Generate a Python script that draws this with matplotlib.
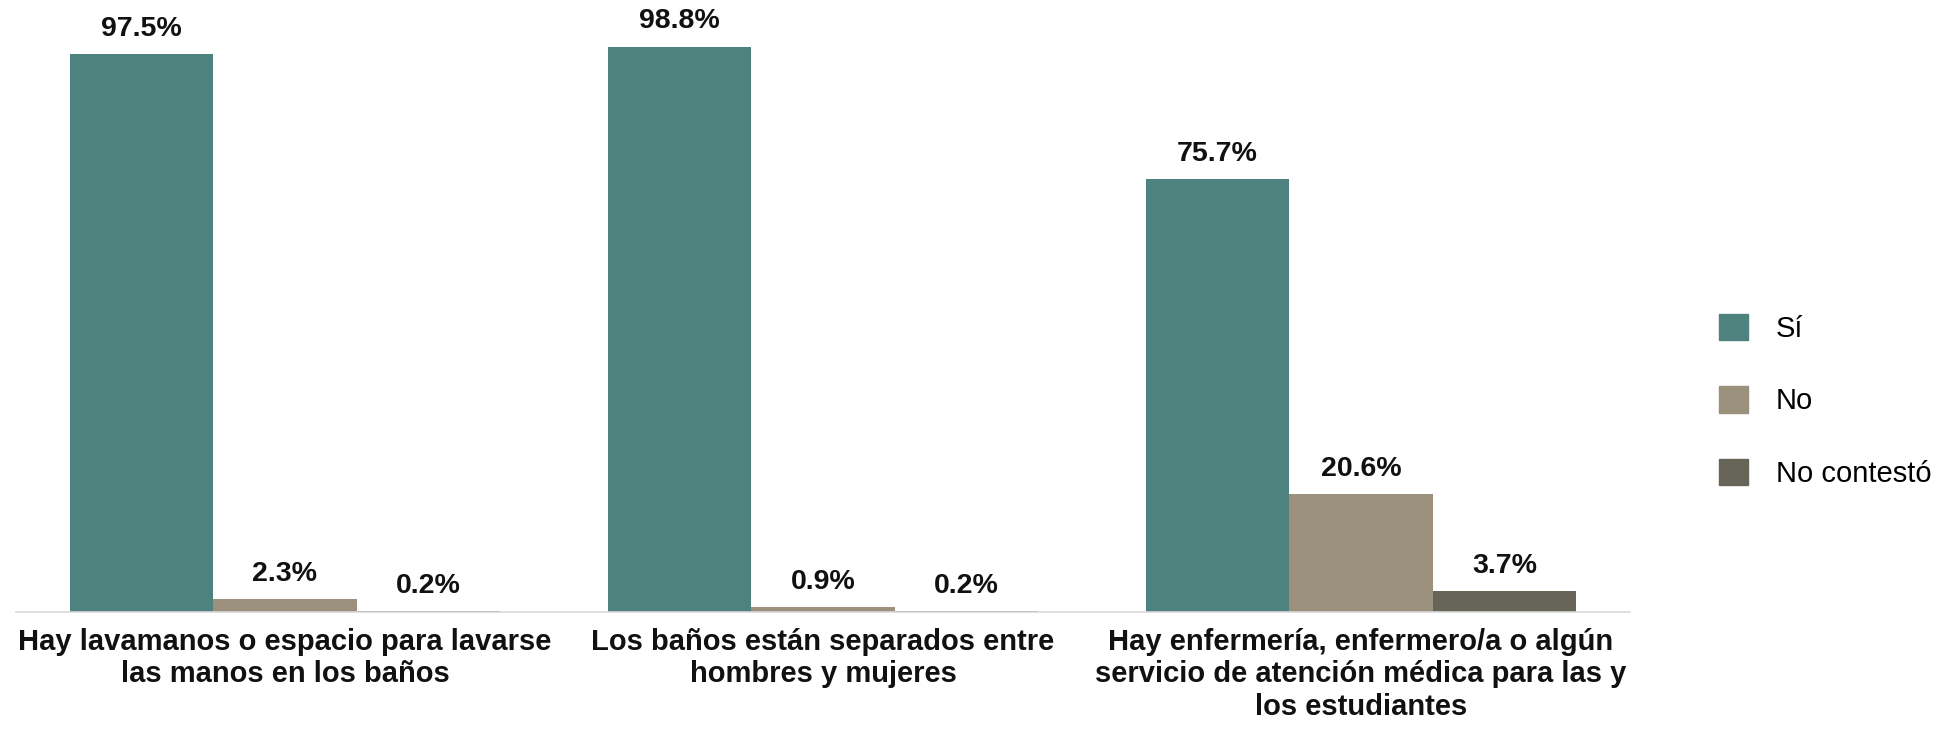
import numpy as np
import matplotlib.pyplot as plt
from matplotlib.patches import Patch

plt.rcParams['font.family'] = ['Liberation Sans', 'DejaVu Sans']

# data
categories = [
    "Hay lavamanos o espacio para lavarse\nlas manos en los baños",
    "Los baños están separados entre\nhombres y mujeres",
    "Hay enfermería, enfermero/a o algún\nservicio de atención médica para las y\nlos estudiantes",
]
series_names = ["Sí", "No", "No contestó"]
si = [97.5, 98.8, 75.7]
no = [2.3, 0.9, 20.6]
no_contesto = [0.2, 0.2, 3.7]
colors = ["#4E827E", "#9B917D", "#676458"]

fig = plt.figure(figsize=(19.49, 7.29), dpi=100)
ax = fig.add_axes([0.0082, 0.16, 0.8281, 0.84])

x = np.arange(len(categories))
width = 0.8 / 3
for i, (vals, name, col) in enumerate(zip([si, no, no_contesto], series_names, colors)):
    pos = x + (i - 1) * width
    ax.bar(pos, vals, width=width, color=col, label=name)
    for p, v in zip(pos, vals):
        ax.annotate(f"{v:.1f}%", (p, v), xytext=(0, 9), textcoords="offset points",
                    ha="center", va="bottom", fontsize=20.5, fontweight="bold", color="#111111")

ax.set_xlim(-0.5, 2.5)
ax.set_ylim(0, 107)
ax.set_xticks(x)
ax.set_xticklabels(categories, fontsize=21, fontweight="bold", color="#111111", linespacing=1.22)
ax.tick_params(axis="x", length=0, pad=11)
ax.set_yticks([])
for s in ["top", "left", "right"]:
    ax.spines[s].set_visible(False)
ax.spines["bottom"].set_color("#D9D9D9")
ax.spines["bottom"].set_linewidth(1.2)

handles = [Patch(color=c, label=n) for c, n in zip(colors, series_names)]
fig.legend(handles=handles, loc="center left", bbox_to_anchor=(0.882, 0.45),
           frameon=False, fontsize=21, handlelength=1.0, handleheight=1.0,
           handletextpad=0.95, labelspacing=1.5, borderpad=0, borderaxespad=0)

fig.savefig("out.png", dpi=100)
